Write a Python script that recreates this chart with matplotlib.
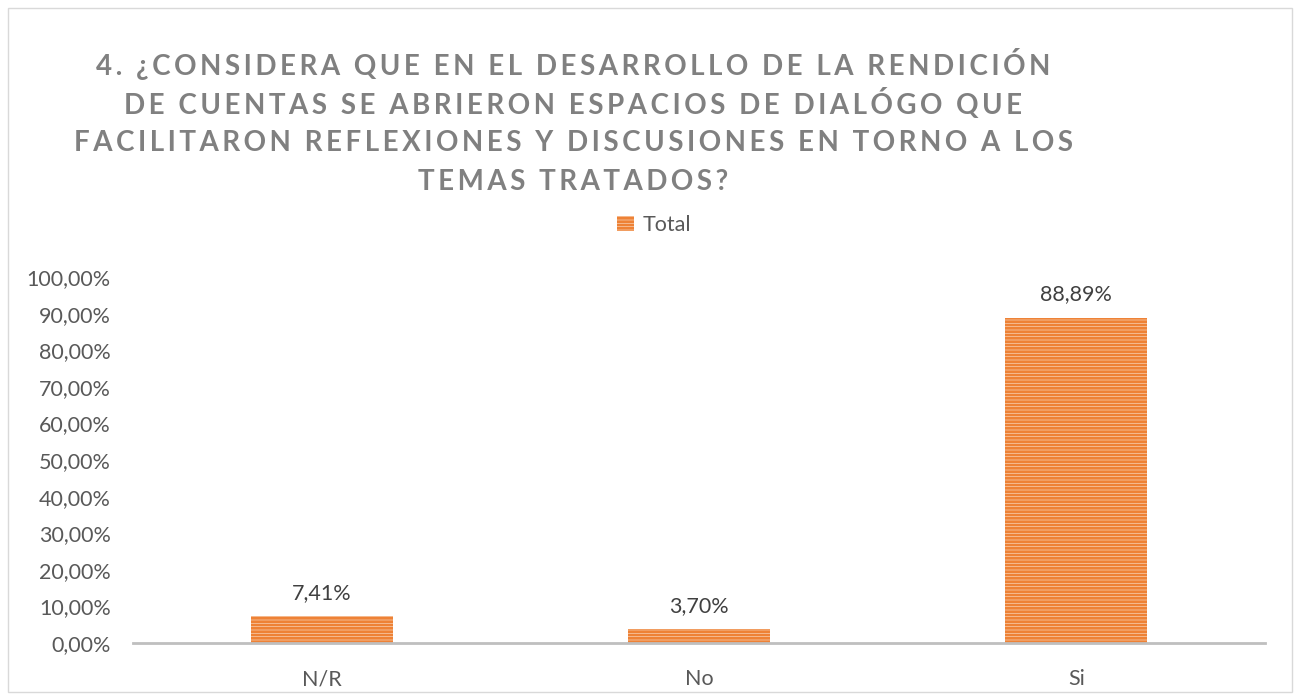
import matplotlib.pyplot as plt
from matplotlib.patches import Rectangle
import matplotlib as mpl

# data
categories = ["N/R", "No", "Si"]
values = [7.41, 3.70, 88.89]
y_ticks = [0, 10, 20, 30, 40, 50, 60, 70, 80, 90, 100]
title_lines = [
    "4. ¿CONSIDERA QUE EN EL DESARROLLO DE LA RENDICIÓN",
    "DE CUENTAS SE ABRIERON ESPACIOS DE DIALÓGO QUE",
    "FACILITARON REFLEXIONES Y DISCUSIONES EN TORNO A LOS",
    "TEMAS TRATADOS?",
]

plt.rcParams["font.family"] = ["Lato", "DejaVu Sans"]
mpl.rcParams["hatch.linewidth"] = 2.0

fig = plt.figure(figsize=(13, 7), dpi=100)
ax = fig.add_axes([133 / 1300, 1 - 643 / 700, (1265 - 133) / 1300, (643 - 277) / 700])

##### outer chart frame #####
fig.patches.append(Rectangle((8 / 1300, 8 / 700), 1284 / 1300, 684 / 700,
                             transform=fig.transFigure, fill=False,
                             edgecolor="#D9D9D9", linewidth=1))

##### bars #####
x = range(len(categories))
bars = ax.bar(x, values, width=0.377, facecolor="#FCE4D2", edgecolor="#EE8236",
              hatch="-----", linewidth=0, label="Total")
for xi, v in zip(x, values):
    ax.text(xi, v + 3.6, f"{v:.2f}%".replace(".", ","), ha="center", va="bottom",
            fontsize=15.5, color="#404040")

ax.set_xlim(-0.5, 2.5)
ax.set_ylim(0, 100)
ax.set_xticks(list(x))
ax.set_xticklabels(categories, fontsize=15.5, color="#595959")
ax.set_yticks(y_ticks)
ax.set_yticklabels([f"{t:.2f}%".replace(".", ",") for t in y_ticks], fontsize=15.5, color="#595959")
ax.tick_params(axis="y", length=0, pad=16)
ax.tick_params(axis="x", length=0, pad=19)

for s in ["top", "right", "left"]:
    ax.spines[s].set_visible(False)
ax.spines["bottom"].set_color("#BFBFBF")
ax.spines["bottom"].set_linewidth(2)

##### legend #####
leg = fig.legend(handles=[bars], labels=["Total"], loc="center", bbox_to_anchor=(654 / 1300, 1 - 225 / 700),
                 frameon=False, fontsize=15.5, handlelength=0.75, handleheight=0.75, handletextpad=0.4)
for t in leg.get_texts():
    t.set_color("#595959")

##### title (letter spaced with hair spaces) #####
y_pos = [64, 104, 143, 182]
for line, yp in zip(title_lines, y_pos):
    spaced = "\u200a\u200a".join(line)
    fig.text(573 / 1300, 1 - yp / 700, spaced, ha="center", va="center",
             fontsize=20, fontweight="bold", color="#808080")

plt.savefig("out.png", dpi=100)
